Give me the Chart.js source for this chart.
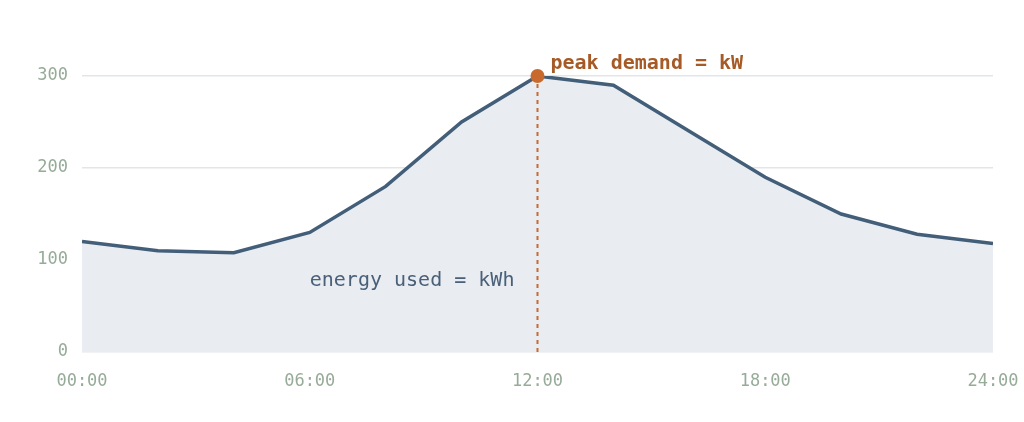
<!DOCTYPE html>
<html>
<head>
<meta charset="utf-8">
<script src="https://cdn.jsdelivr.net/npm/chart.js@4"></script>
<style>
body{margin:0;background:#fff;}
#wrap{width:1024px;height:422px;position:relative;}
</style>
</head>
<body>
<div id="wrap"><canvas id="load"></canvas></div>
<script>
// hourly load, kW, sampled every 2h
var hours=[0,2,4,6,8,10,12,14,16,18,20,22,24];
var load=[120,110,108,130,180,250,300,290,240,190,150,128,118];
var yTicks=[0,100,200,300];
var peakLabel='peak demand = kW';
var energyLabel='energy used = kWh';

var mono="'DejaVu Sans Mono', monospace";
var tickColor='#97ab99';
var lineColor='#435e79';
var peakColor='#c8692e';

var pts=[];
var peakIdx=0;
for(var i=0;i<hours.length;i++){
	pts.push({x:hours[i],y:load[i]});
	if(load[i]>load[peakIdx]) peakIdx=i;
}

var notes={
	id:'notes',
	afterDatasetsDraw:function(chart){
		var ctx=chart.ctx;
		var xs=chart.scales.x, ys=chart.scales.y;
		var px=xs.getPixelForValue(hours[peakIdx]);
		var py=ys.getPixelForValue(load[peakIdx]);
		ctx.save();
		ctx.strokeStyle=peakColor;
		ctx.lineWidth=2;
		ctx.setLineDash([4,4]);
		ctx.beginPath();
		ctx.moveTo(px,py);
		ctx.lineTo(px,ys.getPixelForValue(0));
		ctx.stroke();
		ctx.setLineDash([]);
		ctx.fillStyle=peakColor;
		ctx.beginPath();
		ctx.arc(px,py,7,0,Math.PI*2);
		ctx.fill();
		ctx.font='bold 20px '+mono;
		ctx.fillStyle='#a65a26';
		ctx.textBaseline='middle';
		ctx.fillText(peakLabel,px+13,py-12);
		ctx.font='20px '+mono;
		ctx.fillStyle='#4a6079';
		ctx.fillText(energyLabel,xs.getPixelForValue(6),ys.getPixelForValue(77));
		ctx.restore();
	}
};

new Chart(document.getElementById('load'),{
	type:'line',
	data:{
		datasets:[{
			data:pts,
			borderColor:lineColor,
			borderWidth:3.5,
			backgroundColor:'#e9edf1',
			fill:'origin',
			pointRadius:0,
			tension:0
		}]
	},
	options:{
		responsive:true,
		maintainAspectRatio:false,
		animation:false,
		layout:{padding:{top:76,right:31,left:0,bottom:0}},
		plugins:{legend:{display:false},tooltip:{enabled:false}},
		scales:{
			x:{
				type:'linear',min:0,max:24,
				grid:{display:false},
				border:{display:false},
				afterFit:function(s){s.height=70;s.paddingLeft=0;s.paddingRight=0;},
				ticks:{
					stepSize:6,padding:11,color:tickColor,
					font:{family:mono,size:17},
					maxRotation:0,
					callback:function(v){return (v<10?'0':'')+v+':00';}
				}
			},
			y:{
				min:0,max:300,
				border:{display:false},
				grid:{color:'#e2e5e9',lineWidth:1.5,drawTicks:false},
				afterFit:function(s){s.width=82;},
				afterBuildTicks:function(s){s.ticks=yTicks.map(function(v){return {value:v};});},
				ticks:{padding:14,color:tickColor,font:{family:mono,size:17}}
			}
		}
	},
	plugins:[notes]
});
</script>
</body>
</html>
